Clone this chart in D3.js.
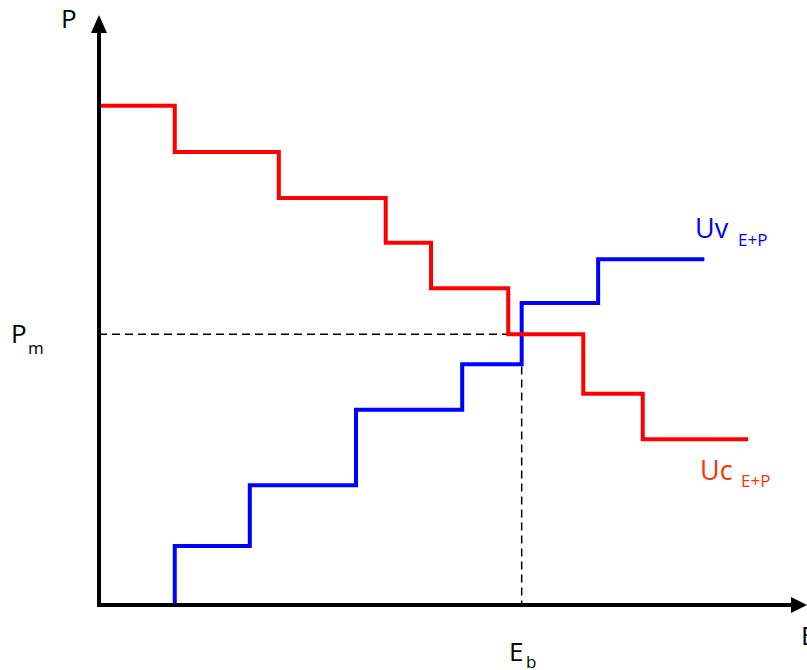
<!DOCTYPE html>
<html><head><meta charset="utf-8">
<script src="https://cdn.jsdelivr.net/npm/d3@7"></script>
<style>body{margin:0;background:#fff}svg{display:block}text{font-family:"Open Sans","Liberation Sans",sans-serif}</style>
</head><body>
<script>
const ucX = [0, 10.7, 25.4, 40.5, 46.9, 57.8, 68.4, 76.8, 91.7];
const ucY = [84.6, 76.8, 69.0, 61.4, 53.7, 45.9, 35.8, 28.1, 28.1];
const uvX = [0, 10.7, 21.3, 36.3, 51.3, 59.7, 70.5, 85.5];
const uvY = [0, 10.0, 20.3, 33.1, 40.8, 51.2, 58.6, 58.6];
const Pm = 45.9, Eb = 59.7;

const W = 807, H = 670;
const svg = d3.select("body").append("svg").attr("width", W).attr("height", H);
const x = d3.scaleLinear().domain([0, 100]).range([99, 807]);
const y = d3.scaleLinear().domain([0, 100]).range([605, 15]);

const line = d3.line().x(d => x(d[0])).y(d => y(d[1])).curve(d3.curveStepAfter);

// dashed guides
svg.append("path").attr("d", `M${x(0)},${y(Pm)}H${x(Eb)}V${y(0)}`)
  .attr("fill", "none").attr("stroke", "#000").attr("stroke-width", 1.5).attr("stroke-dasharray", "8,5");

svg.append("path").datum(uvX.map((v, i) => [v, uvY[i]])).attr("d", line)
  .attr("fill", "none").attr("stroke", "#0000ff").attr("stroke-width", 4);
svg.append("path").datum(ucX.map((v, i) => [v, ucY[i]])).attr("d", line)
  .attr("fill", "none").attr("stroke", "#ff0000").attr("stroke-width", 4);

// axes
svg.append("line").attr("x1", x(0)).attr("y1", y(0) + 2).attr("x2", x(0)).attr("y2", y(100) + 16)
  .attr("stroke", "#000").attr("stroke-width", 4);
svg.append("line").attr("x1", x(0) - 2).attr("y1", y(0)).attr("x2", x(100) - 14).attr("y2", y(0))
  .attr("stroke", "#000").attr("stroke-width", 4);
svg.append("path").attr("d", `M${x(0)},${y(100)}L${x(0) - 8},${y(100) + 18}L${x(0) + 8},${y(100) + 18}Z`).attr("fill", "#000");
svg.append("path").attr("d", `M${x(100)},${y(0)}L${x(100) - 16},${y(0) - 8}L${x(100) - 16},${y(0) + 8}Z`).attr("fill", "#000");

function label(px, py, main, color, fs, sub, sx, sy, sfs) {
  svg.append("text").attr("x", px).attr("y", py).attr("fill", color).attr("font-size", fs).text(main);
  if (sub) svg.append("text").attr("x", sx).attr("y", sy).attr("fill", color).attr("font-size", sfs).text(sub);
}
label(61, 28, "P", "#000", 26);
label(11, 343, "P", "#000", 26, "m", 28, 354, 17);
label(509, 661, "E", "#000", 26, "b", 526, 668, 17);
label(801, 645, "E", "#000", 26);
label(695, 238, "Uv", "#0000ff", 27, "E+P", 738, 246, 17);
label(700, 480, "Uc", "#ff3300", 27, "E+P", 741, 487, 17);
</script>
</body></html>
